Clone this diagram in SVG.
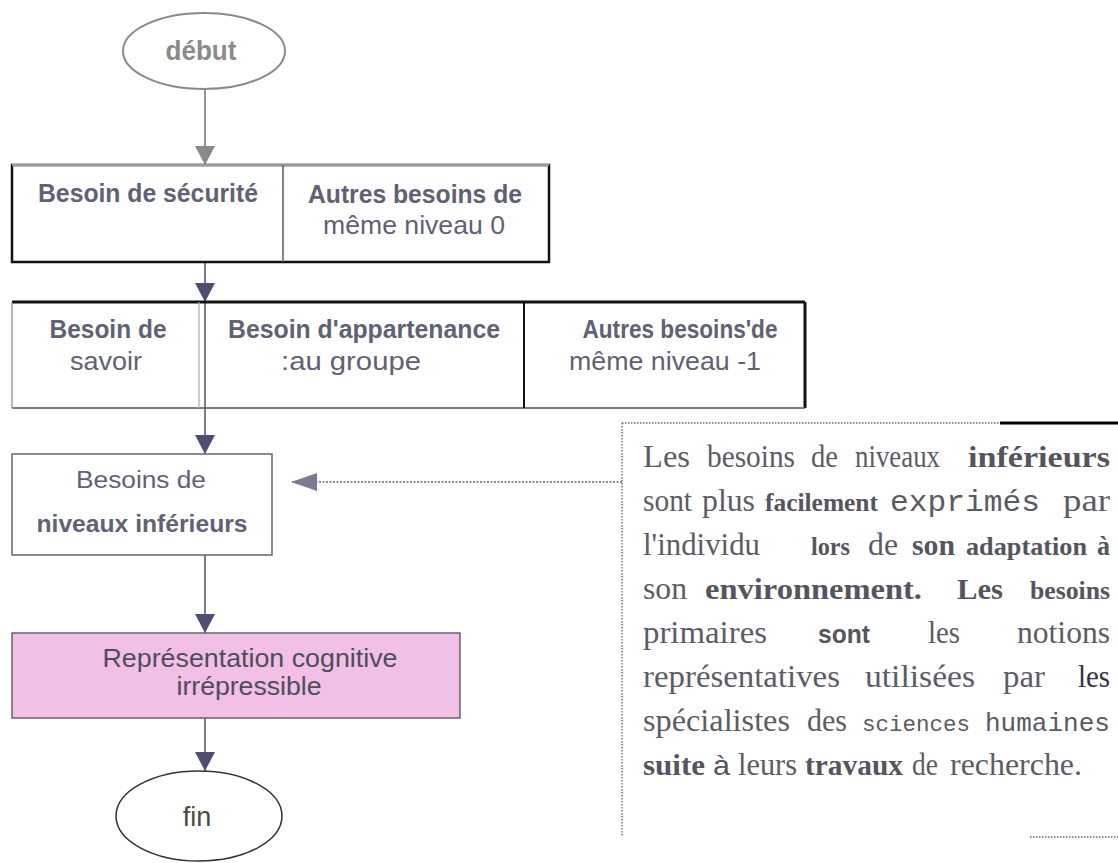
<svg xmlns="http://www.w3.org/2000/svg" width="1118" height="863" viewBox="0 0 1118 863">
<style>
.fl{font-family:"Liberation Sans",Arial,sans-serif;fill:#5f6276;text-anchor:middle}
.b{font-weight:bold}
.se{font-family:"Liberation Serif","Times New Roman",serif;font-size:31px;fill:#5c5c66}
.sb{font-family:"Liberation Serif","Times New Roman",serif;font-weight:bold;fill:#55555f;font-size:30px}
.mo{font-family:"Liberation Mono","Courier New",monospace;font-size:29px;fill:#5a5a62}
.ss{font-family:"Liberation Sans",Arial,sans-serif;font-weight:bold;font-size:26px;fill:#55555f}
.sr{font-family:"Liberation Sans",Arial,sans-serif;font-size:28px;fill:#55555f}
.conn{stroke:#5a5a6a;stroke-width:1.6;fill:none}
</style>
<defs>
<marker id="ag" markerUnits="userSpaceOnUse" markerWidth="22" markerHeight="20" refX="11" refY="19" orient="0" viewBox="0 0 22 20"><polygon points="1,0 21,0 11,19" fill="#8a8a8e"/></marker>
<marker id="ad" markerUnits="userSpaceOnUse" markerWidth="22" markerHeight="20" refX="11" refY="19" orient="0" viewBox="0 0 22 20"><polygon points="1,0 21,0 11,19" fill="#4e4e72"/></marker>
<marker id="al" markerUnits="userSpaceOnUse" markerWidth="28" markerHeight="20" refX="1" refY="10" orient="0" viewBox="0 0 28 20"><polygon points="0,10 26,1 26,19" fill="#7a7a92"/></marker>
</defs>
<rect width="1118" height="863" fill="#ffffff"/>

<g id="connectors">
<line x1="205" y1="90" x2="205" y2="165" stroke="#8a8a8e" stroke-width="1.8" marker-end="url(#ag)"/>
<line class="conn" x1="205" y1="262" x2="205" y2="302" marker-end="url(#ad)"/>
<line class="conn" x1="205" y1="302" x2="205" y2="454" marker-end="url(#ad)"/>
<line class="conn" x1="205" y1="555" x2="205" y2="633" marker-end="url(#ad)"/>
<line class="conn" x1="205" y1="718" x2="205" y2="771" marker-end="url(#ad)"/>
<line x1="622" y1="482" x2="292" y2="482" stroke="#8a8aa0" stroke-width="2" stroke-dasharray="2,1.5" marker-end="url(#al)"/>
</g>

<g id="debut">
<ellipse cx="204" cy="51" rx="81" ry="38" fill="#fff" stroke="#8a8a8a" stroke-width="2"/>
<text class="fl b" x="201" y="60" font-size="27" style="fill:#8a8a8a" textLength="71" lengthAdjust="spacingAndGlyphs">début</text>
</g>

<g id="niveau0">
<rect x="12" y="165" width="537" height="97" fill="#fff" stroke="#111" stroke-width="2.5"/>
<line x1="12" y1="165" x2="549" y2="165" stroke="#9a9a9a" stroke-width="2.5"/>
<line x1="283" y1="165" x2="283" y2="262" stroke="#5a5a70" stroke-width="1.5"/>
<text class="fl b" x="148" y="202" font-size="26" textLength="220" lengthAdjust="spacingAndGlyphs">Besoin de sécurité</text>
<text class="fl b" x="415" y="203" font-size="26" textLength="214" lengthAdjust="spacingAndGlyphs">Autres besoins de</text>
<text class="fl" x="414" y="234" font-size="25" textLength="182" lengthAdjust="spacingAndGlyphs">même niveau 0</text>
</g>

<g id="niveau-1">
<line x1="12" y1="302" x2="805" y2="302" stroke="#111" stroke-width="3"/>
<line x1="805" y1="302" x2="805" y2="408" stroke="#111" stroke-width="3"/>
<line x1="12" y1="408" x2="805" y2="408" stroke="#555" stroke-width="1.5"/>
<line x1="12" y1="302" x2="12" y2="408" stroke="#888" stroke-width="1.2"/>
<line x1="199" y1="302" x2="199" y2="408" stroke="#aaa" stroke-width="1.2"/>
<line x1="524" y1="302" x2="524" y2="408" stroke="#111" stroke-width="2"/>
<text class="fl b" x="108" y="338" font-size="26" textLength="117" lengthAdjust="spacingAndGlyphs">Besoin de</text>
<text class="fl" x="106" y="370" font-size="25" textLength="72" lengthAdjust="spacingAndGlyphs">savoir</text>
<text class="fl b" x="364" y="338" font-size="26" textLength="272" lengthAdjust="spacingAndGlyphs">Besoin d'appartenance</text>
<text class="fl" x="351" y="370" font-size="25" textLength="140" lengthAdjust="spacingAndGlyphs">:au groupe</text>
<text class="fl b" x="680" y="338" font-size="26" textLength="195" lengthAdjust="spacingAndGlyphs">Autres besoins'de</text>
<text class="fl" x="665" y="370" font-size="25" textLength="192" lengthAdjust="spacingAndGlyphs">même niveau -1</text>
</g>

<g id="inferieurs">
<rect x="12" y="454" width="260" height="101" fill="#fff" stroke="#666" stroke-width="1.5"/>
<text class="fl" x="141" y="488" font-size="23" textLength="130" lengthAdjust="spacingAndGlyphs">Besoins de</text>
<text class="fl b" x="142" y="532" font-size="24" textLength="211" lengthAdjust="spacingAndGlyphs">niveaux inférieurs</text>
</g>

<g id="representation">
<rect x="12" y="633" width="448" height="85" fill="#f2bfe6" stroke="#666" stroke-width="1.5"/>
<text class="fl" x="250" y="667" font-size="26" style="fill:#4e4e5a" textLength="295" lengthAdjust="spacingAndGlyphs">Représentation cognitive</text>
<text class="fl" x="249" y="695" font-size="26" style="fill:#4e4e5a" textLength="145" lengthAdjust="spacingAndGlyphs">irrépressible</text>
</g>

<g id="fin">
<ellipse cx="199" cy="816" rx="83" ry="45" fill="#fff" stroke="#333" stroke-width="1.5"/>
<text class="fl" x="197" y="826" font-size="27" style="fill:#4a4a3e">fin</text>
</g>

<g id="note">
<line x1="622" y1="423" x2="1000" y2="423" stroke="#666" stroke-width="1.5" stroke-dasharray="1.5,1.5"/>
<line x1="1000" y1="423" x2="1118" y2="423" stroke="#000" stroke-width="3"/>
<line x1="622" y1="423" x2="622" y2="837" stroke="#777" stroke-width="1.5" stroke-dasharray="1.5,1.5"/>
<line x1="1030" y1="837" x2="1118" y2="837" stroke="#666" stroke-width="1.5" stroke-dasharray="1.5,1.5"/>

<text class="se" x="643" y="467" textLength="47" lengthAdjust="spacingAndGlyphs">Les</text>
<text class="se" x="707" y="467" textLength="88" lengthAdjust="spacingAndGlyphs">besoins</text>
<text class="se" x="811" y="467" textLength="27" lengthAdjust="spacingAndGlyphs">de</text>
<text class="se" x="855" y="467" textLength="85" lengthAdjust="spacingAndGlyphs">niveaux</text>
<text class="sb" x="968" y="467" textLength="142" lengthAdjust="spacingAndGlyphs">inférieurs</text>

<text class="se" x="643" y="511" textLength="49" lengthAdjust="spacingAndGlyphs">sont</text>
<text class="se" x="702" y="511" textLength="53" lengthAdjust="spacingAndGlyphs">plus</text>
<text class="sb" x="765" y="511" style="font-size:26px" textLength="113" lengthAdjust="spacingAndGlyphs">facilement</text>
<text class="mo" x="890" y="511" textLength="150" lengthAdjust="spacingAndGlyphs">exprimés</text>
<text class="se" x="1063" y="511" textLength="47" lengthAdjust="spacingAndGlyphs">par</text>

<text class="se" x="643" y="555" textLength="117" lengthAdjust="spacingAndGlyphs">l'individu</text>
<text class="sb" x="811" y="555" style="font-size:26px" textLength="39" lengthAdjust="spacingAndGlyphs">lors</text>
<text class="se" x="868" y="555" textLength="30" lengthAdjust="spacingAndGlyphs">de</text>
<text class="sb" x="912" y="555" textLength="43" lengthAdjust="spacingAndGlyphs">son</text>
<text class="sb" x="966" y="555" style="font-size:26px" textLength="121" lengthAdjust="spacingAndGlyphs">adaptation</text>
<text class="sb" x="1097" y="555" style="font-size:27px" textLength="13" lengthAdjust="spacingAndGlyphs">à</text>

<text class="se" x="643" y="599" textLength="44" lengthAdjust="spacingAndGlyphs">son</text>
<text class="sb" x="705" y="599" textLength="217" lengthAdjust="spacingAndGlyphs">environnement.</text>
<text class="sb" x="957" y="599" textLength="46" lengthAdjust="spacingAndGlyphs">Les</text>
<text class="sb" x="1030" y="599" style="font-size:26px" textLength="80" lengthAdjust="spacingAndGlyphs">besoins</text>

<text class="se" x="643" y="643" textLength="124" lengthAdjust="spacingAndGlyphs">primaires</text>
<text class="ss" x="818" y="643" textLength="52" lengthAdjust="spacingAndGlyphs">sont</text>
<text class="se" x="928" y="643" textLength="32" lengthAdjust="spacingAndGlyphs">les</text>
<text class="se" x="1017" y="643" textLength="93" lengthAdjust="spacingAndGlyphs">notions</text>

<text class="se" x="643" y="687" textLength="197" lengthAdjust="spacingAndGlyphs">représentatives</text>
<text class="se" x="865" y="687" textLength="110" lengthAdjust="spacingAndGlyphs">utilisées</text>
<text class="se" x="1003" y="687" textLength="42" lengthAdjust="spacingAndGlyphs">par</text>
<text class="se" x="1078" y="687" textLength="32" lengthAdjust="spacingAndGlyphs" style="fill:#333344">les</text>

<text class="se" x="643" y="731" textLength="147" lengthAdjust="spacingAndGlyphs">spécialistes</text>
<text class="se" x="807" y="731" textLength="40" lengthAdjust="spacingAndGlyphs">des</text>
<text class="mo" x="862" y="731" style="font-size:22.5px" textLength="108" lengthAdjust="spacingAndGlyphs">sciences</text>
<text class="mo" x="985" y="731" style="font-size:26px" textLength="125" lengthAdjust="spacingAndGlyphs">humaines</text>

<text class="sb" x="643" y="775" textLength="62" lengthAdjust="spacingAndGlyphs">suite</text>
<text class="sr" x="713" y="775" textLength="17" lengthAdjust="spacingAndGlyphs">à</text>
<text class="se" x="738" y="775" textLength="59" lengthAdjust="spacingAndGlyphs">leurs</text>
<text class="sb" x="805" y="775" style="font-size:29px" textLength="98" lengthAdjust="spacingAndGlyphs">travaux</text>
<text class="se" x="912" y="775" textLength="26" lengthAdjust="spacingAndGlyphs">de</text>
<text class="se" x="950" y="775" textLength="132" lengthAdjust="spacingAndGlyphs">recherche.</text>
</g>
</svg>
